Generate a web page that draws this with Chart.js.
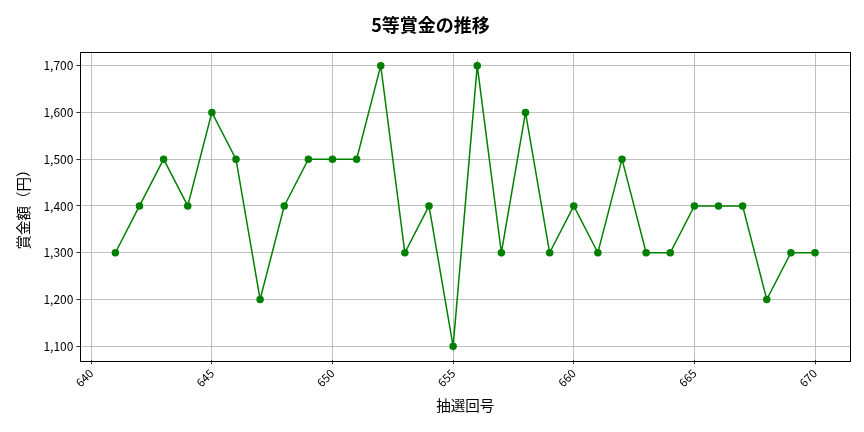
<!DOCTYPE html>
<html><head><meta charset="utf-8">
<script src="https://cdn.jsdelivr.net/npm/chart.js@4"></script>
<style>html,body{margin:0;padding:0;background:#fff}#w{width:864px;height:432px}</style>
</head><body><div id="w"><canvas id="c"></canvas></div>
<script>
const draws = [641,642,643,644,645,646,647,648,649,650,651,652,653,654,655,656,657,658,659,660,661,662,663,664,665,666,667,668,669,670];
const prizes = [1300,1400,1500,1400,1600,1500,1200,1400,1500,1500,1500,1700,1300,1400,1100,1700,1300,1600,1300,1400,1300,1500,1300,1300,1400,1400,1400,1200,1300,1300];
const xTicks = [640,645,650,655,660,665,670];
const yTicks = [1100,1200,1300,1400,1500,1600,1700];
const titleText = '5等賞金の推移';
const xLabel = '抽選回号';
const yLabel = '賞金額（円）';
const FONT = "'Noto Sans CJK JP','Noto Sans',sans-serif";

const frame = {
  id:'frame',
  afterDraw(chart){
    const {ctx, chartArea:a} = chart;
    ctx.save();
    ctx.strokeStyle = '#000'; ctx.lineWidth = 1;
    ctx.strokeRect(Math.round(a.left)+0.5, Math.round(a.top)+0.5, Math.round(a.right-a.left), Math.round(a.bottom-a.top));
    ctx.restore();
  }
};

new Chart(document.getElementById('c'), {
  type:'line',
  data:{datasets:[{
    data: draws.map((d,i)=>({x:d,y:prizes[i]})),
    borderColor:'#008000', backgroundColor:'#008000',
    borderWidth:1.5, pointRadius:3, pointHoverRadius:3, tension:0
  }]},
  options:{
    responsive:true, maintainAspectRatio:false, animation:false,
    layout:{padding:{top:0,right:14,bottom:14,left:11}},
    plugins:{
      legend:{display:false}, tooltip:{enabled:false},
      title:{display:true,text:titleText,color:'#000',font:{family:FONT,size:18,weight:'bold'},padding:{top:14,bottom:16}}
    },
    scales:{
      x:{type:'linear',min:639.55,max:671.45,
        afterBuildTicks(s){s.ticks = xTicks.map(v=>({value:v}));},
        ticks:{color:'#000',font:{family:FONT,size:11.5},maxRotation:45,minRotation:45,autoSkip:false,padding:2},
        grid:{color:'#b0b0b0',lineWidth:0.8,tickLength:4,tickColor:'#000',drawTicks:true},
        border:{display:false},
        title:{display:true,text:xLabel,color:'#000',font:{family:FONT,size:14.5},padding:{top:5}}
      },
      y:{type:'linear',min:1070,max:1730,
        afterBuildTicks(s){s.ticks = yTicks.map(v=>({value:v}));},
        ticks:{color:'#000',font:{family:FONT,size:12},padding:3,callback:v=>v.toLocaleString('en-US')},
        grid:{color:'#b0b0b0',lineWidth:0.8,tickLength:4,tickColor:'#000'},
        border:{display:false},
        title:{display:true,text:yLabel,color:'#000',font:{family:FONT,size:14.5},padding:{bottom:8}}
      }
    }
  },
  plugins:[frame]
});
</script></body></html>
